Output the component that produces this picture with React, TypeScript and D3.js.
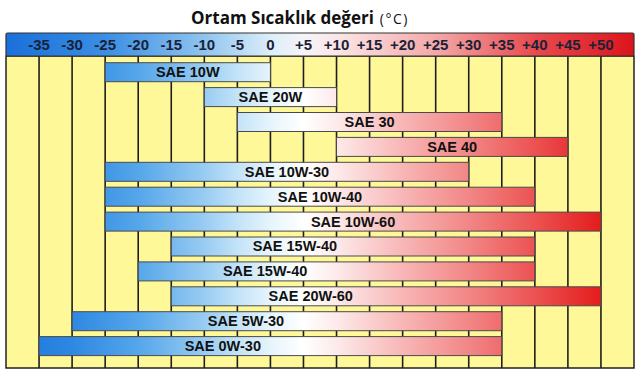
import React from 'react';
import * as d3 from 'd3';

// oil grades and their usable ambient temperature range (°C)
const grades = ['SAE 10W', 'SAE 20W', 'SAE 30', 'SAE 40', 'SAE 10W-30', 'SAE 10W-40', 'SAE 10W-60', 'SAE 15W-40', 'SAE 15W-40', 'SAE 20W-60', 'SAE 5W-30', 'SAE 0W-30'];
const minTemps = [-25, -10, -5, 10, -25, -25, -25, -15, -20, -15, -30, -35];
const maxTemps = [0, 10, 35, 45, 30, 40, 50, 40, 40, 50, 35, 35];
// temperature under the centre of each grade's label
const labelTemps = [-12.5, 0, 15, 27.5, 2.5, 7.5, 12.5, 3.7, -0.8, 6.1, -3.7, -7.2];
const tickTemps = [-35, -30, -25, -20, -15, -10, -5, 0, 5, 10, 15, 20, 25, 30, 35, 40, 45, 50];

const barStops: [number, string][] = [
  [-40, '#1a78dc'], [-30, '#2e88e2'], [-20, '#55a6ea'], [-10, '#98ccf2'], [-5, '#c3e3f8'],
  [0, '#e6f4fc'], [5, '#ffffff'], [10, '#fdeaea'], [20, '#f8b6b6'], [30, '#f28686'],
  [40, '#ec5252'], [50, '#e41c1c'], [55, '#e01414'],
];
const headStops: [number, string][] = [
  [-40, '#1a70da'], [-25, '#3a8ee4'], [-10, '#8fc4ee'], [0, '#dceef9'], [5, '#f6f4f8'],
  [10, '#fbe6e6'], [25, '#f3a8a8'], [40, '#e84a4e'], [55, '#dc141c'],
];

export default function App() {
  const width = 640;
  const height = 373;
  const left = 6;
  const right = 634;
  const headTop = 33;
  const headBottom = 56;
  const bottom = 368;

  const x = d3.scaleLinear().domain([-40, 55]).range([left, right]);
  const y = d3.scaleBand<number>().domain(d3.range(grades.length)).range([56.8, 361.5]).padding(0.237);
  const fmt = (t: number) => (t > 0 ? '+' + t : String(t));
  const off = (t: number) => ((t + 40) / 95) * 100 + '%';

  return (
    <svg width={width} height={height} style={{ position: 'absolute', left: 0, top: 0 }}>
      <defs>
        <linearGradient id='bar-grad' gradientUnits='userSpaceOnUse' x1={left} x2={right} y1={0} y2={0}>
          {barStops.map(([t, c]) => <stop key={t} offset={off(t)} stopColor={c} />)}
        </linearGradient>
        <linearGradient id='head-grad' gradientUnits='userSpaceOnUse' x1={left} x2={right} y1={0} y2={0}>
          {headStops.map(([t, c]) => <stop key={t} offset={off(t)} stopColor={c} />)}
        </linearGradient>
      </defs>

      <rect width={width} height={height} fill='#ffffff' />

      {/* Title */}
      <text x={300} y={23.5} textAnchor='middle' fontFamily='Open Sans' fill='#111'>
        <tspan fontWeight='bold' fontSize={17}>Ortam Sıcaklık değeri</tspan>
        <tspan fontSize={14} dx={6} letterSpacing={1.5}>(°C)</tspan>
      </text>

      {/* Body */}
      <rect x={left} y={headBottom} width={right - left} height={bottom - headBottom} fill='#fff899' stroke='#222' strokeWidth={1.5} />
      {tickTemps.map(t => (
        <line key={t} x1={x(t)} x2={x(t)} y1={headBottom} y2={bottom} stroke='#1e1e1e' strokeWidth={1.6} />
      ))}

      {/* Header */}
      <rect x={left} y={headTop} width={right - left} height={headBottom - headTop} rx={1.5} fill='url(#head-grad)' stroke='#333' strokeWidth={1.2} />
      {tickTemps.map(t => (
        <text key={t} x={x(t)} y={50} textAnchor='middle' fontFamily='Liberation Sans' fontWeight='bold' fontSize={15} fill='#1b2238'>
          {fmt(t)}
        </text>
      ))}

      {/* Bars */}
      {grades.map((g, i) => {
        const x0 = x(minTemps[i]);
        const x1 = x(maxTemps[i]);
        const top = y(i) as number;
        return (
          <g key={i}>
            <rect x={x0} y={top} width={x1 - x0} height={y.bandwidth()} fill='url(#bar-grad)' stroke='#4a4a4a' strokeWidth={1} />
            <text x={x(labelTemps[i])} y={top + y.bandwidth() / 2 + 5} textAnchor='middle' fontFamily='Liberation Sans' fontWeight='bold' fontSize={14.5} fill='#111'>
              {g}
            </text>
          </g>
        );
      })}
    </svg>
  );
}
